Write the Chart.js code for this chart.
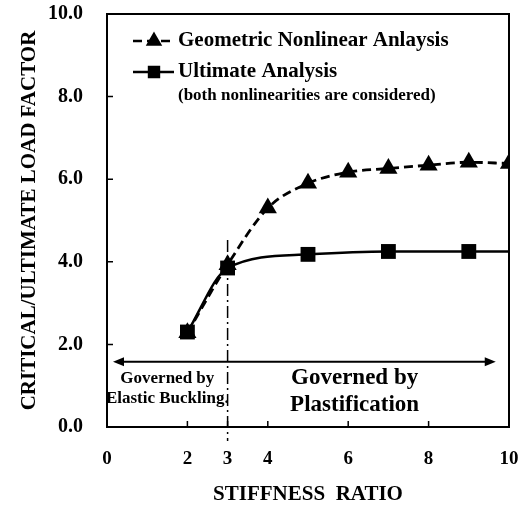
<!DOCTYPE html>
<html>
<head>
<meta charset="utf-8">
<script src="https://cdn.jsdelivr.net/npm/chart.js@4.4.1/dist/chart.umd.min.js"></script>
<style>
  html, body { margin: 0; padding: 0; background: #fff; }
  #wrap { width: 527px; height: 508px; }
</style>
</head>
<body>
<div id="wrap"><canvas id="chart"></canvas></div>
<script>
// stiffness ratio (x) and load factors
const geoX = [2, 3, 4, 5, 6, 7, 8, 9, 10];
const geoY = [2.28, 3.93, 5.3, 5.9, 6.17, 6.26, 6.34, 6.41, 6.38];
const ultX = [2, 3, 5, 7, 9, 10];
const ultY = [2.3, 3.85, 4.18, 4.25, 4.25, 4.25];
const ultMarked = [true, true, true, true, true, false]; // last point is the line end only
const xTicks = [0, 2, 3, 4, 6, 8, 10];
const yTicks = [0, 2, 4, 6, 8, 10];
const seriesNames = ["Geometric Nonlinear Anlaysis", "Ultimate Analysis"];
const legendNote = "(both nonlinearities are considered)";
const regionLeft = ["Governed by", "Elastic Buckling."];
const regionRight = ["Governed by", "Plastification"];
const boundaryX = 3;

const SERIF = "'Liberation Serif', 'Times New Roman', serif";

function arrowHead(ctx, x, y, dir) {
  ctx.beginPath();
  ctx.moveTo(x, y);
  ctx.lineTo(x - dir * 11, y - 4.5);
  ctx.lineTo(x - dir * 11, y + 4.5);
  ctx.closePath();
  ctx.fill();
}

// no extra room for tick label overhang, layout padding decides
function fixPad(s) {
  s.paddingTop = 0;
  s.paddingBottom = 0;
  s.paddingLeft = 0;
  s.paddingRight = 0;
}

const decor = {
  id: "decor",
  beforeDatasetsDraw(chart) {
    const { ctx, chartArea: a, scales: { x, y } } = chart;
    ctx.save();
    ctx.strokeStyle = "#000";
    ctx.fillStyle = "#000";

    // frame
    ctx.lineWidth = 2;
    ctx.strokeRect(a.left, a.top, a.right - a.left, a.bottom - a.top);

    // inward tick marks
    ctx.lineWidth = 1.5;
    ctx.beginPath();
    xTicks.forEach((v) => {
      if (v === 0 || v === 10) return;
      const px = x.getPixelForValue(v);
      ctx.moveTo(px, a.bottom);
      ctx.lineTo(px, a.bottom - 6);
    });
    yTicks.forEach((v) => {
      if (v === 0 || v === 10) return;
      const py = y.getPixelForValue(v);
      ctx.moveTo(a.left, py);
      ctx.lineTo(a.left + 6, py);
    });
    ctx.stroke();

    // dash-dot boundary at x = 3
    const bx = x.getPixelForValue(boundaryX);
    ctx.lineWidth = 1.5;
    ctx.setLineDash([12, 4, 2, 4]);
    ctx.beginPath();
    ctx.moveTo(bx, y.getPixelForValue(4.53));
    ctx.lineTo(bx, a.bottom + 14);
    ctx.stroke();
    ctx.setLineDash([]);

    // double arrow
    const ay = y.getPixelForValue(1.58);
    const ax0 = x.getPixelForValue(0.15);
    const ax1 = x.getPixelForValue(9.67);
    ctx.lineWidth = 2;
    ctx.beginPath();
    ctx.moveTo(ax0 + 6, ay);
    ctx.lineTo(ax1 - 6, ay);
    ctx.stroke();
    arrowHead(ctx, ax0, ay, -1);
    arrowHead(ctx, ax1, ay, 1);

    // region labels
    ctx.textAlign = "center";
    ctx.textBaseline = "middle";
    ctx.font = "bold 17px " + SERIF;
    ctx.fillText(regionLeft[0], x.getPixelForValue(1.5), y.getPixelForValue(1.17));
    ctx.fillText(regionLeft[1], x.getPixelForValue(1.5), y.getPixelForValue(0.68));
    ctx.font = "bold 23px " + SERIF;
    ctx.fillText(regionRight[0], x.getPixelForValue(6.16), y.getPixelForValue(1.19));
    ctx.fillText(regionRight[1], x.getPixelForValue(6.16), y.getPixelForValue(0.53));
    ctx.restore();
  },
  afterDatasetsDraw(chart) {
    const { ctx, chartArea: a } = chart;
    ctx.save();
    ctx.strokeStyle = "#000";
    ctx.fillStyle = "#000";
    const lx0 = a.left + 26, lx1 = a.left + 67, mx = a.left + 47, tx = a.left + 71;
    const rows = [a.top + 27, a.top + 58];
    chart.data.datasets.forEach((ds, i) => {
      const ly = rows[i];
      ctx.lineWidth = 2.5;
      ctx.setLineDash(ds.borderDash || []);
      ctx.beginPath();
      ctx.moveTo(lx0, ly);
      ctx.lineTo(lx1, ly);
      ctx.stroke();
      ctx.setLineDash([]);
      Chart.helpers.drawPoint(ctx, { pointStyle: ds.pointStyle, radius: 7, rotation: 0, borderWidth: 1 }, mx, ly);
      ctx.fill();
      ctx.font = "bold 21px " + SERIF;
      ctx.textAlign = "left";
      ctx.textBaseline = "middle";
      ctx.fillText(ds.label, tx, ly);
    });
    ctx.font = "bold 17px " + SERIF;
    ctx.fillText(legendNote, tx, a.top + 82);
    ctx.restore();
  }
};

new Chart(document.getElementById("chart"), {
  type: "line",
  data: {
    datasets: [
      {
        label: seriesNames[0],
        data: geoX.map((v, i) => ({ x: v, y: geoY[i] })),
        borderColor: "#000",
        backgroundColor: "#000",
        borderWidth: 2.8,
        borderDash: [9, 5],
        pointStyle: "triangle",
        pointRadius: 10.5,
        pointBorderWidth: 0,
        cubicInterpolationMode: "monotone",
        order: 2
      },
      {
        label: seriesNames[1],
        data: ultX.map((v, i) => ({ x: v, y: ultY[i] })),
        borderColor: "#000",
        backgroundColor: "#000",
        borderWidth: 2.5,
        pointStyle: "rect",
        pointRadius: ultMarked.map((m) => (m ? 10.5 : 0)),
        pointBorderWidth: 0,
        cubicInterpolationMode: "monotone",
        order: 1
      }
    ]
  },
  options: {
    responsive: true,
    maintainAspectRatio: false,
    animation: false,
    layout: { padding: { left: 0, right: 18, top: 14, bottom: 0 } },
    plugins: { legend: { display: false }, tooltip: { enabled: false } },
    scales: {
      x: {
        type: "linear",
        min: 0,
        max: 10,
        afterBuildTicks: (s) => { s.ticks = xTicks.map((v) => ({ value: v })); },
        afterFit: (s) => { s.height = 81; fixPad(s); },
        grid: { display: false },
        border: { display: false },
        ticks: {
          color: "#000",
          padding: 13,
          maxRotation: 0,
          autoSkip: false,
          font: { family: SERIF, size: 19, weight: "bold" },
          callback: (v) => String(v)
        },
        title: {
          display: true,
          text: "STIFFNESS  RATIO",
          color: "#000",
          padding: { top: 0, bottom: 1 },
          font: { family: SERIF, size: 21, weight: "bold" }
        }
      },
      y: {
        min: 0,
        max: 10,
        afterBuildTicks: (s) => { s.ticks = yTicks.map((v) => ({ value: v })); },
        afterFit: (s) => { s.width = 107; fixPad(s); },
        grid: { display: false },
        border: { display: false },
        ticks: {
          color: "#000",
          padding: 16,
          font: { family: SERIF, size: 20, weight: "bold" },
          callback: (v) => v.toFixed(1)
        },
        title: {
          display: true,
          text: "CRITICAL/ULTIMATE LOAD FACTOR",
          color: "#000",
          padding: { top: 17, bottom: 0 },
          font: { family: SERIF, size: 21, weight: "bold" }
        }
      }
    }
  },
  plugins: [decor]
});
</script>
</body>
</html>
